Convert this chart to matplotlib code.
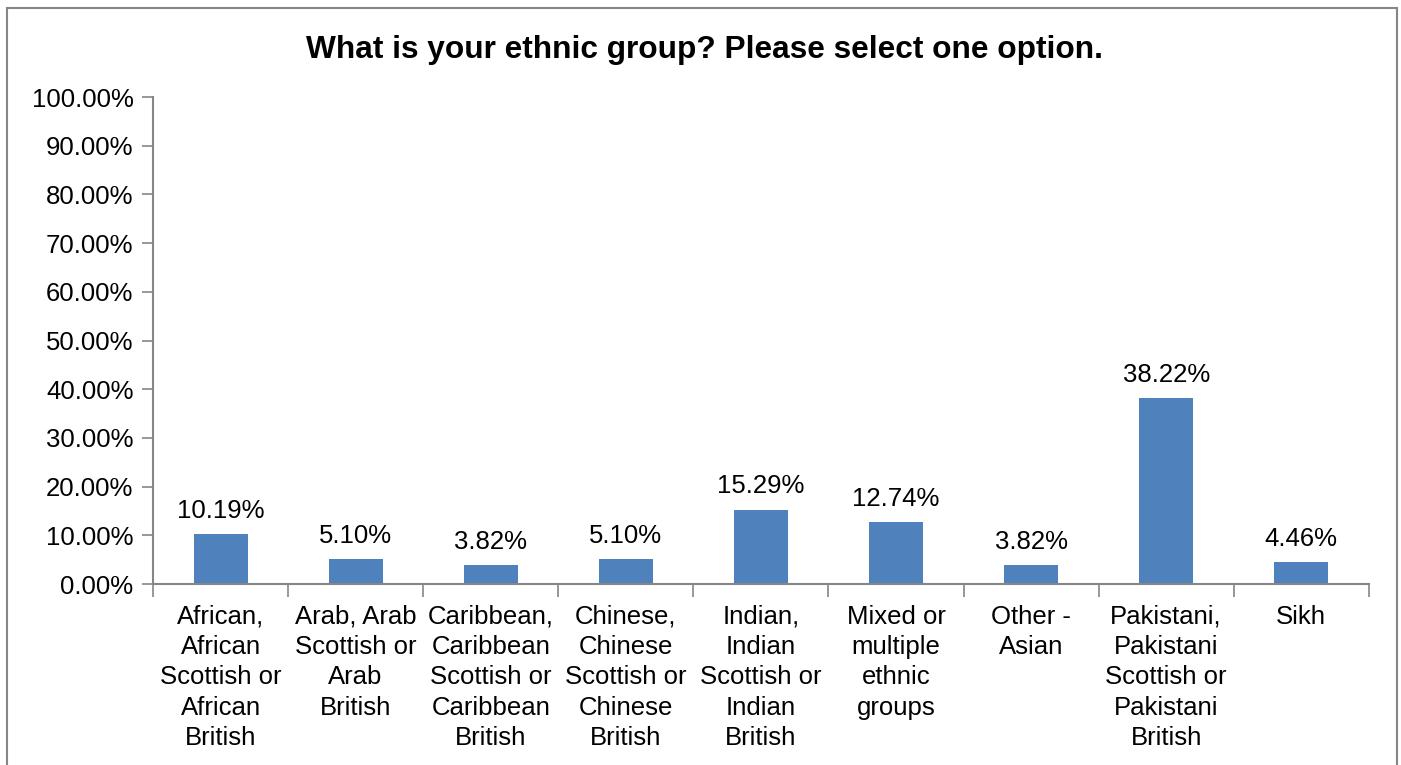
"""
Survey chart: ethnic group of respondents.
"""

import matplotlib.pyplot as plt
from matplotlib.patches import Rectangle
from matplotlib.ticker import FuncFormatter, MultipleLocator

CATEGORIES = [
    "African,\nAfrican\nScottish or\nAfrican\nBritish",
    "Arab, Arab\nScottish or\nArab\nBritish",
    "Caribbean,\nCaribbean\nScottish or\nCaribbean\nBritish",
    "Chinese,\nChinese\nScottish or\nChinese\nBritish",
    "Indian,\nIndian\nScottish or\nIndian\nBritish",
    "Mixed or\nmultiple\nethnic\ngroups",
    "Other -\nAsian",
    "Pakistani,\nPakistani\nScottish or\nPakistani\nBritish",
    "Sikh",
]
PERCENTS = [10.19, 5.10, 3.82, 5.10, 15.29, 12.74, 3.82, 38.22, 4.46]

TITLE = "What is your ethnic group? Please select one option."
BAR_COLOR = "#4F81BD"
AXIS_COLOR = "#868686"

plt.rcParams["font.family"] = ["Liberation Sans", "DejaVu Sans"]

fig = plt.figure(figsize=(14.01, 7.65), dpi=100)
ax = fig.add_axes([0.1092, 0.2366, 0.8678, 0.6366])

x = list(range(len(CATEGORIES)))
bars = ax.bar(x, PERCENTS, width=0.4, color=BAR_COLOR, zorder=2)
for bar, val in zip(bars, PERCENTS):
    ax.annotate(f"{val:.2f}%", (bar.get_x() + bar.get_width() / 2, val),
                xytext=(0, 8), textcoords="offset points",
                ha="center", va="bottom", fontsize=18.5)

ax.set_xlim(-0.5, len(CATEGORIES) - 0.5)
ax.set_ylim(0, 100)
ax.yaxis.set_major_locator(MultipleLocator(10))
ax.yaxis.set_major_formatter(FuncFormatter(lambda v, _: f"{v:.2f}%"))

# category labels centered, tick marks between categories
ax.set_xticks(x)
ax.set_xticklabels(CATEGORIES, fontsize=18.5, linespacing=1.33, va="top")
ax.tick_params(axis="x", which="major", length=0, pad=15)
ax.set_xticks([i - 0.5 for i in range(len(CATEGORIES) + 1)], minor=True)
ax.tick_params(axis="x", which="minor", length=9, width=1.2, color=AXIS_COLOR)
ax.tick_params(axis="y", labelsize=18.5, length=8, width=1.2,
               color=AXIS_COLOR, pad=6)

for side in ("top", "right"):
    ax.spines[side].set_visible(False)
for side in ("left", "bottom"):
    ax.spines[side].set_color(AXIS_COLOR)
    ax.spines[side].set_linewidth(1.5)

fig.text(0.503, 0.935, TITLE, ha="center", va="center",
         fontsize=22.8, fontweight="bold")

# outer chart border
fig.patches.append(Rectangle((0.005, -0.05), 0.992, 1.04, transform=fig.transFigure,
                             fill=False, edgecolor=AXIS_COLOR, linewidth=1.5))

fig.savefig("out.png", dpi=100)
